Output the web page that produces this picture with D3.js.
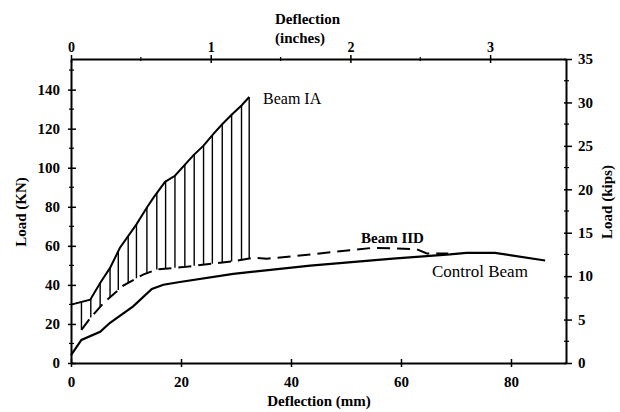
<!DOCTYPE html>
<html>
<head>
<meta charset="utf-8">
<script src="https://cdn.jsdelivr.net/npm/d3@7"></script>
<style>
    body { margin: 0; background: #fff; }
    text { font-family: "Liberation Serif", "Times New Roman", serif; fill: #000; }
    .tickLabel { font-size: 15px; font-weight: bold; }
    .axisTitle { font-size: 15px; font-weight: bold; }
</style>
</head>
<body>
<div id="chart"></div>
<script>
// readings from the picture: deflection in mm, load in kN
var controlX = [0, 1.9, 5.3, 7.1, 11.3, 14.7, 16.8, 19.8, 29.5, 43.5, 58.5, 68.9, 71.9, 77.1, 86.2];
var controlLoad = [4, 11.8, 16, 20.6, 29, 37.9, 40.1, 41.5, 45.6, 49.9, 53.5, 55.6, 56.4, 56.4, 52.5];

var beamIIDX = [1.9, 3.5, 5.9, 9.5, 13.1, 15.6, 20.4, 29.5, 33.1, 35.6, 43.5, 50.7, 55, 59.2, 62.9, 64.7, 68.6];
var beamIIDLoad = [17, 23, 30.7, 39.6, 45.3, 47.9, 49.1, 52.1, 53.9, 53.4, 55.6, 57.8, 59, 58.7, 58.2, 56.1, 56.1];

var beamIAX = [0, 3.5, 5.3, 7.1, 8.9, 11.9, 13.8, 15, 17.1, 18.9, 22.2, 24.1, 25.9, 27.4, 29.2, 31, 32.4];
var beamIALoad = [29.9, 32.4, 41, 48.7, 59, 71, 79.6, 84.7, 92.8, 95.9, 106.2, 111.3, 117.3, 122, 127.1, 131.9, 136.2];

// x positions of the vertical hatch lines between Beam IA and Beam IID
var hatchX = [1.9, 3.6, 5.3, 7.1, 8.6, 10.4, 11.9, 13.8, 15.6, 17.2, 18.9, 20.7, 22.4, 24.1, 25.7, 27.5, 29.2, 31.0, 32.4];

var mmTicks = [0, 20, 40, 60, 80];
var inchTicks = [0, 1, 2, 3];
var inchMinor = [0.5, 1.5, 2.5];
var kNTicks = [0, 20, 40, 60, 80, 100, 120, 140];
var kNMinor = [10, 30, 50, 70, 90, 110, 130, 150];
var kipTicks = [0, 5, 10, 15, 20, 25, 30, 35];
var kipMinor = [2.5, 7.5, 12.5, 17.5, 22.5, 27.5, 32.5];

var plotLeft = 71, plotRight = 566, plotTop = 59, plotBottom = 363;

var x = d3.scaleLinear().domain([0, 90]).range([plotLeft, plotRight]);
var xIn = d3.scaleLinear().domain([0, 90 / 25.4]).range([plotLeft, plotRight]);
var y = d3.scaleLinear().domain([0, 35 * 4.448]).range([plotBottom, plotTop]);
var yKip = d3.scaleLinear().domain([0, 35]).range([plotBottom, plotTop]);

var svg = d3.select("#chart")
    .append("svg")
    .attr("width", 620)
    .attr("height", 412);

function interp(xs, ys, v) {
    for (var i = 0; i < xs.length - 1; i++) {
        if (v >= xs[i] && v <= xs[i + 1]) {
            var t = (v - xs[i]) / (xs[i + 1] - xs[i]);
            return ys[i] + t * (ys[i + 1] - ys[i]);
        }
    }
    return v < xs[0] ? ys[0] : ys[ys.length - 1];
}

function styleAxis(g) {
    g.attr("font-size", null).attr("font-family", null);
    g.select(".domain").attr("stroke-width", 2);
    g.selectAll(".tick line").attr("stroke-width", 1.5);
    g.selectAll(".tick text").attr("class", "tickLabel");
}

// bottom axis (mm)
var gB = svg.append("g").attr("transform", "translate(0," + plotBottom + ")")
    .call(d3.axisBottom(x).tickValues(mmTicks).tickSize(4).tickSizeOuter(0).tickPadding(9));
styleAxis(gB);
gB.selectAll(".tick line").attr("y1", -4);

// top axis (inches)
var gT = svg.append("g").attr("transform", "translate(0," + plotTop + ")")
    .call(d3.axisTop(xIn).tickValues(inchTicks).tickFormat(d3.format("d"))
        .tickSize(4).tickSizeOuter(0).tickPadding(3));
styleAxis(gT);
gT.selectAll(".tick line").attr("y1", 4);
gT.selectAll(".tick text").style("font-size", "14px");
gT.selectAll(".minor").data(inchMinor).enter().append("line")
    .attr("x1", d => xIn(d)).attr("x2", d => xIn(d))
    .attr("y1", -2).attr("y2", 2).attr("stroke", "#000").attr("stroke-width", 1.2);

// left axis (kN)
var gL = svg.append("g").attr("transform", "translate(" + plotLeft + ",0)")
    .call(d3.axisLeft(y).tickValues(kNTicks).tickSize(3).tickSizeOuter(0).tickPadding(8));
styleAxis(gL);
gL.selectAll(".tick line").attr("x1", 5);
gL.selectAll(".minor").data(kNMinor).enter().append("line")
    .attr("x1", -2).attr("x2", 3)
    .attr("y1", d => y(d)).attr("y2", d => y(d)).attr("stroke", "#000").attr("stroke-width", 1.2);

// right axis (kips)
var gR = svg.append("g").attr("transform", "translate(" + plotRight + ",0)")
    .call(d3.axisRight(yKip).tickValues(kipTicks).tickSize(6).tickSizeOuter(0).tickPadding(6));
styleAxis(gR);
gR.selectAll(".tick line").attr("x1", -2);
gR.selectAll(".minor").data(kipMinor).enter().append("line")
    .attr("x1", -2).attr("x2", 3)
    .attr("y1", d => yKip(d)).attr("y2", d => yKip(d)).attr("stroke", "#000").attr("stroke-width", 1.2);

// axis titles
svg.append("text").attr("class", "axisTitle")
    .attr("x", 319).attr("y", 406).attr("text-anchor", "middle")
    .text("Deflection (mm)");
svg.append("text").attr("class", "axisTitle")
    .attr("x", 275).attr("y", 24)
    .text("Deflection");
svg.append("text").attr("class", "axisTitle")
    .attr("x", 275).attr("y", 43)
    .text("(inches)");
svg.append("text").attr("class", "axisTitle")
    .attr("transform", "translate(26,212) rotate(-90)").attr("text-anchor", "middle")
    .text("Load (KN)");
svg.append("text").attr("class", "axisTitle")
    .attr("transform", "translate(612,202) rotate(-90)").attr("text-anchor", "middle")
    .text("Load (kips)");

var line = d3.line().x(d => x(d[0])).y(d => y(d[1]));

// hatch lines
svg.append("g").selectAll("line").data(hatchX).enter().append("line")
    .attr("x1", d => x(d)).attr("x2", d => x(d))
    .attr("y1", d => y(interp(beamIAX, beamIALoad, d)))
    .attr("y2", d => y(interp(beamIIDX, beamIIDLoad, d)))
    .attr("stroke", "#000").attr("stroke-width", 1.4);

svg.append("path")
    .attr("d", line(d3.zip(beamIAX, beamIALoad)))
    .attr("fill", "none").attr("stroke", "#000").attr("stroke-width", 2);

svg.append("path")
    .attr("d", line(d3.zip(beamIIDX, beamIIDLoad)))
    .attr("fill", "none").attr("stroke", "#000").attr("stroke-width", 2)
    .attr("stroke-dasharray", "13,7");

svg.append("path")
    .attr("d", line(d3.zip(controlX, controlLoad)))
    .attr("fill", "none").attr("stroke", "#000").attr("stroke-width", 2.2);

// series labels
svg.append("text").attr("x", 263).attr("y", 104)
    .style("font-size", "16px").text("Beam IA");
svg.append("text").attr("x", 361).attr("y", 243)
    .style("font-size", "15px").style("font-weight", "bold").text("Beam IID");
svg.append("text").attr("x", 432).attr("y", 277)
    .style("font-size", "17px").text("Control Beam");
</script>
</body>
</html>
